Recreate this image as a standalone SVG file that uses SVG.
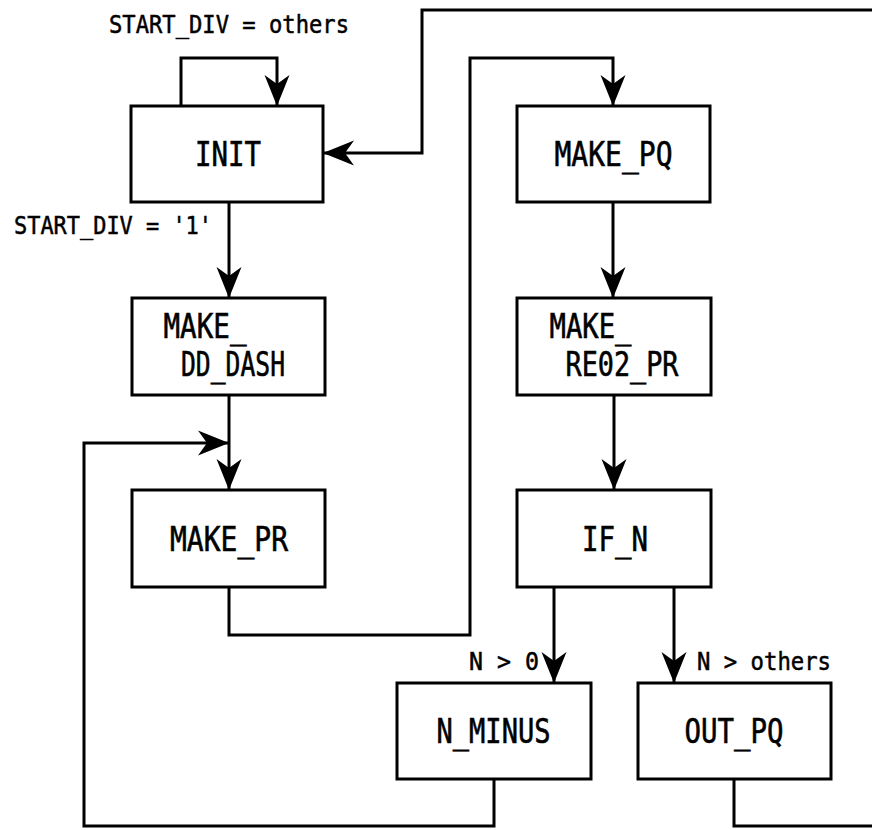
<svg xmlns="http://www.w3.org/2000/svg" width="872" height="830" viewBox="0 0 872 830">
<style>
.box{fill:#fff;stroke:#000;stroke-width:3}
.t{font-family:"DejaVu Sans Mono","Liberation Mono",monospace;font-size:33px;fill:#000;stroke:#000;stroke-width:0.6}
.l{font-family:"DejaVu Sans Mono","Liberation Mono",monospace;font-size:24px;fill:#000;stroke:#000;stroke-width:0.5}
.c{fill:none;stroke:#000;stroke-width:3;marker-end:url(#ah)}
</style>
<defs>
<marker id="ah" markerUnits="userSpaceOnUse" markerWidth="34" markerHeight="30" viewBox="-32 -15 34 30" refX="0" refY="0" orient="auto">
<path d="M0,0 L-31,-12.5 L-22,0 L-31,12.5 Z" fill="#000"/>
</marker>
</defs>
<g id="nodes">
<g id="INIT"><rect class="box" x="131" y="106" width="192" height="96"/><text class="t" x="195" y="166" textLength="66" lengthAdjust="spacingAndGlyphs">INIT</text></g>
<g id="MAKE_DD_DASH"><rect class="box" x="132" y="298" width="193" height="97"/><text class="t" x="163.5" y="338" textLength="83" lengthAdjust="spacingAndGlyphs">MAKE_</text><text class="t" x="181" y="376" textLength="104" lengthAdjust="spacingAndGlyphs">DD_DASH</text></g>
<g id="MAKE_PR"><rect class="box" x="132" y="490" width="193" height="97"/><text class="t" x="170" y="551" textLength="118" lengthAdjust="spacingAndGlyphs">MAKE_PR</text></g>
<g id="MAKE_PQ"><rect class="box" x="517" y="106" width="193" height="96"/><text class="t" x="554.5" y="166" textLength="118" lengthAdjust="spacingAndGlyphs">MAKE_PQ</text></g>
<g id="MAKE_RE02_PR"><rect class="box" x="517" y="298" width="194" height="97"/><text class="t" x="549.5" y="338" textLength="82" lengthAdjust="spacingAndGlyphs">MAKE_</text><text class="t" x="565.5" y="376" textLength="113" lengthAdjust="spacingAndGlyphs">RE02_PR</text></g>
<g id="IF_N"><rect class="box" x="517" y="490" width="194" height="97"/><text class="t" x="582" y="551" textLength="66" lengthAdjust="spacingAndGlyphs">IF_N</text></g>
<g id="N_MINUS"><rect class="box" x="397" y="683" width="194" height="96"/><text class="t" x="436.5" y="743" textLength="114" lengthAdjust="spacingAndGlyphs">N_MINUS</text></g>
<g id="OUT_PQ"><rect class="box" x="638" y="683" width="193" height="96"/><text class="t" x="684.5" y="743" textLength="99" lengthAdjust="spacingAndGlyphs">OUT_PQ</text></g>
</g>
<g id="connectors">
<path class="c" d="M181,106 V58 H277 V106"/>
<path class="c" d="M229,202 V298"/>
<path class="c" d="M229,395 V490"/>
<path class="c" d="M494,779 V826 H84 V443 H229"/>
<path class="c" d="M229,587 V635 H470 V58 H613 V106"/>
<path class="c" d="M734,779 V826 H876 V10 H422 V153 H323"/>
<path class="c" d="M613,202 V298"/>
<path class="c" d="M614,395 V490"/>
<path class="c" d="M554,587 V683"/>
<path class="c" d="M674,587 V683"/>
</g>
<g id="labels">
<text class="l" x="109" y="33" textLength="240" lengthAdjust="spacingAndGlyphs">START_DIV = others</text>
<text class="l" x="14" y="234" textLength="198" lengthAdjust="spacingAndGlyphs">START_DIV = '1'</text>
<text class="l" x="469" y="670" textLength="70" lengthAdjust="spacingAndGlyphs">N &gt; 0</text>
<text class="l" x="697" y="670" textLength="134" lengthAdjust="spacingAndGlyphs">N &gt; others</text>
</g>
</svg>
